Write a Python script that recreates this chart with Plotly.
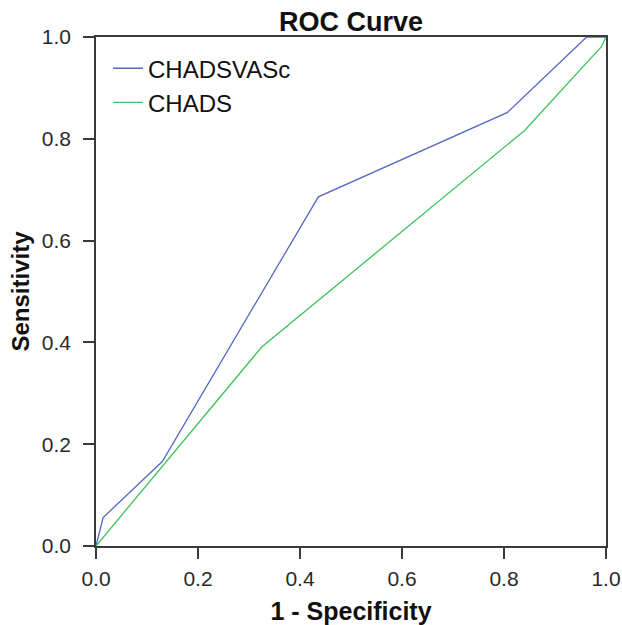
import plotly.graph_objects as go

# CHADSVASc ROC points (1 - specificity, sensitivity)
chadsvasc_fpr = [0.0, 0.014, 0.130, 0.436, 0.807, 0.962, 1.0]
chadsvasc_tpr = [0.0, 0.056, 0.166, 0.686, 0.852, 1.0, 1.0]

# CHADS ROC points
chads_fpr = [0.0, 0.325, 0.840, 0.991, 1.0]
chads_tpr = [0.0, 0.391, 0.816, 0.981, 1.0]

tick_vals = [0.0, 0.2, 0.4, 0.6, 0.8, 1.0]
tick_text = ["0.0", "0.2", "0.4", "0.6", "0.8", "1.0"]

FONT = "Liberation Sans, Arial, Helvetica"

fig = go.Figure()
fig.add_trace(go.Scatter(x=chadsvasc_fpr, y=chadsvasc_tpr, mode="lines", name="CHADSVASc",
                         line=dict(color="#5468c2", width=1.3)))
fig.add_trace(go.Scatter(x=chads_fpr, y=chads_tpr, mode="lines", name="CHADS",
                         line=dict(color="#3cc35a", width=1.3)))

axis_common = dict(
    range=[0, 1], tickvals=tick_vals, ticktext=tick_text,
    showgrid=False, zeroline=False, showline=True, linecolor="#3a3a3a", linewidth=1.5,
    mirror=True, ticks="outside", ticklen=11, tickwidth=1.5, tickcolor="#3a3a3a",
    tickfont=dict(family=FONT, size=21, color="#2a2a2a"),
)

fig.update_layout(
    width=622, height=625,
    margin=dict(l=96, r=16, t=37, b=79, autoexpand=False),
    paper_bgcolor="white", plot_bgcolor="white",
    title=dict(text="<b>ROC Curve</b>", x=0.5, xanchor="center", xref="paper",
               y=1 - 22 / 625, yref="container", yanchor="middle",
               font=dict(family=FONT, size=27, color="#111")),
    xaxis=dict(**axis_common, ticklabelstandoff=2,
               title=dict(text="<b>1 - Specificity</b>", standoff=14,
                          font=dict(family=FONT, size=25, color="#111"))),
    yaxis=dict(**axis_common, ticklabelstandoff=8,
               title=dict(text="<b>Sensitivity</b>", standoff=5,
                          font=dict(family=FONT, size=24, color="#111"))),
    legend=dict(x=0.0235, y=0.982, xanchor="left", yanchor="top",
                bgcolor="rgba(0,0,0,0)", tracegroupgap=0,
                font=dict(family=FONT, size=24, color="#111")),
    showlegend=True,
)

fig.write_html("out.html", config={"displayModeBar": False},
               post_script="document.body.style.margin='0';document.body.style.overflow='hidden';")
